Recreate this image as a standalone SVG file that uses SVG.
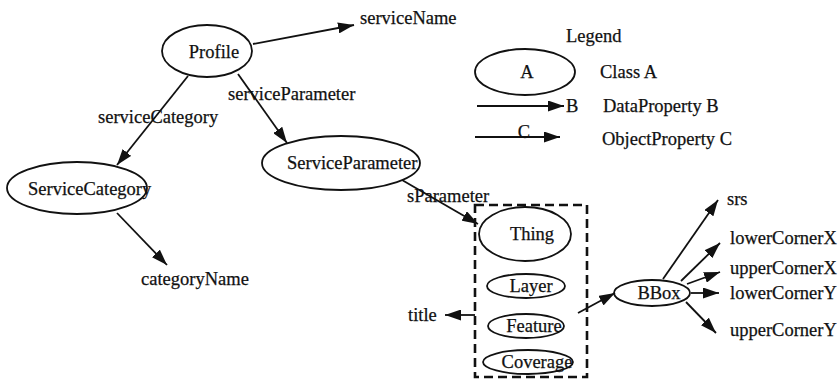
<svg xmlns="http://www.w3.org/2000/svg" width="840" height="380" viewBox="0 0 840 380">
  <style>
    text { font-family: "Liberation Serif", "Times New Roman", serif; font-size: 18.5px; fill: #111; stroke: #111; stroke-width: 0.25; }
    .mid { text-anchor: middle; }
    .node { fill: none; stroke: #111; stroke-width: 1.8; }
    .edge { fill: none; stroke: #111; stroke-width: 1.8; marker-end: url(#arrow); }
    .group { fill: none; stroke: #111; stroke-width: 2.6; stroke-dasharray: 9 5; }
  </style>
  <defs>
    <marker id="arrow" markerUnits="userSpaceOnUse" markerWidth="16" markerHeight="11" refX="16" refY="5.5" orient="auto">
      <path d="M0,0 L16,5.5 L0,11 z" fill="#111"/>
    </marker>
  </defs>
  <rect width="840" height="380" fill="#fff"/>

  <!-- connectors -->
  <g id="edges">
    <line class="edge" x1="253" y1="44" x2="354" y2="25"/>
    <line class="edge" x1="188" y1="76" x2="117" y2="165"/>
    <line class="edge" x1="238" y1="74" x2="287" y2="143"/>
    <line class="edge" x1="117" y1="213" x2="167" y2="265"/>
    <line class="edge" x1="402" y1="180" x2="478" y2="224"/>
    <line class="edge" x1="475" y1="315" x2="445" y2="315"/>
    <line class="edge" x1="578" y1="313" x2="615" y2="293"/>
    <line class="edge" x1="663" y1="279" x2="718" y2="200"/>
    <line class="edge" x1="681" y1="281" x2="720" y2="243"/>
    <line class="edge" x1="687" y1="284" x2="720" y2="272"/>
    <line class="edge" x1="691" y1="293" x2="719" y2="293"/>
    <line class="edge" x1="686" y1="302" x2="716" y2="333"/>
    <text x="360" y="24">serviceName</text>
    <text x="98" y="123">serviceCategory</text>
    <text x="228" y="100">serviceParameter</text>
    <text x="141" y="285">categoryName</text>
    <text x="407" y="202">sParameter</text>
    <text x="408" y="321">title</text>
    <text x="727" y="205">srs</text>
    <text x="730" y="244">lowerCornerX</text>
    <text x="730" y="274">upperCornerX</text>
    <text x="730" y="299">lowerCornerY</text>
    <text x="730" y="336">upperCornerY</text>
  </g>

  <!-- classes -->
  <g id="profile">
    <ellipse class="node" cx="207" cy="51" rx="45" ry="26"/>
    <text class="mid" x="214" y="58">Profile</text>
  </g>
  <g id="service-category">
    <ellipse class="node" cx="77" cy="188" rx="70" ry="26"/>
    <text x="28" y="195">ServiceCategory</text>
  </g>
  <g id="service-parameter">
    <ellipse class="node" cx="341" cy="163" rx="79" ry="27"/>
    <text x="287" y="169">ServiceParameter</text>
  </g>

  <!-- resource group: Thing and its kinds -->
  <g id="resource-group">
    <rect class="group" x="475" y="205" width="112" height="172"/>
  </g>
  <g id="thing">
    <ellipse class="node" cx="525" cy="234" rx="46" ry="27"/>
    <text class="mid" x="532" y="240">Thing</text>
  </g>
  <g id="layer">
    <ellipse class="node" cx="526" cy="286" rx="39" ry="12"/>
    <text class="mid" x="531" y="292">Layer</text>
  </g>
  <g id="feature">
    <ellipse class="node" cx="526" cy="326" rx="38" ry="12"/>
    <text class="mid" x="534" y="332">Feature</text>
  </g>
  <g id="coverage">
    <ellipse class="node" cx="528" cy="362" rx="45" ry="12"/>
    <text class="mid" x="537" y="368">Coverage</text>
  </g>
  <g id="bbox">
    <ellipse class="node" cx="652" cy="293" rx="38" ry="13"/>
    <text class="mid" x="659" y="299">BBox</text>
  </g>

  <!-- legend -->
  <g id="legend">
    <text x="566" y="42">Legend</text>
    <ellipse class="node" cx="525" cy="72" rx="50" ry="23"/>
    <text class="mid" x="527" y="78">A</text>
    <text x="600" y="78">Class A</text>
    <line class="edge" x1="477" y1="106" x2="564" y2="106"/>
    <text x="566" y="112">B</text>
    <text x="603" y="112">DataProperty B</text>
    <line class="edge" x1="475" y1="137" x2="560" y2="137"/>
    <text class="mid" x="524" y="138">C</text>
    <text x="602" y="145">ObjectProperty C</text>
  </g>
</svg>
